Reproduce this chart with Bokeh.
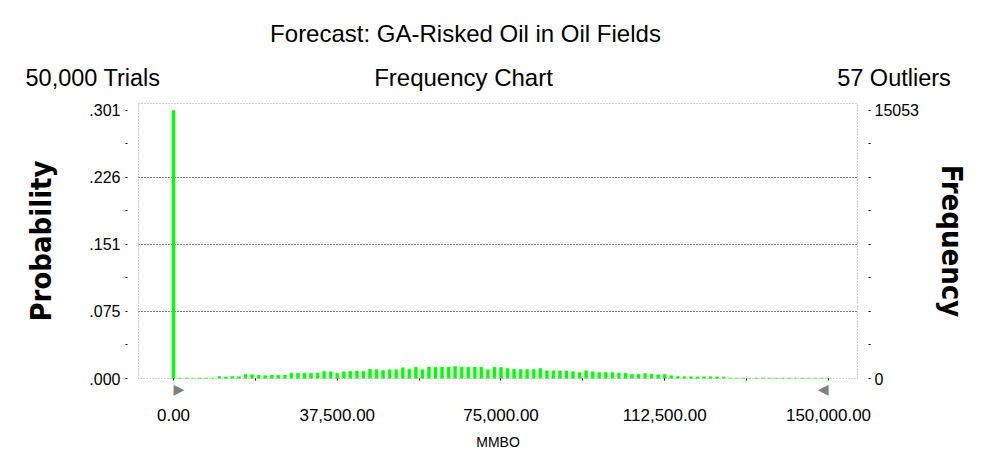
from bokeh.plotting import figure
from bokeh.layouts import column
from bokeh.models import (Range1d, LinearAxis, FixedTicker, NumeralTickFormatter,
                          CustomJSTickFormatter, Label)
from bokeh.embed import file_html
from bokeh.resources import INLINE

# ---- data -------------------------------------------------------------
trials = 50000
outliers = 57
max_frequency = 15053
bin_width = 1500
frequency = [
    15053, 20, 25, 20, 30, 25, 30, 110, 90, 110,
    100, 220, 210, 180, 150, 190, 185, 190, 300, 290,
    300, 295, 305, 410, 375, 300, 375, 410, 415, 405,
    525, 490, 450, 490, 495, 600, 525, 635, 490, 640,
    630, 635, 640, 675, 635, 630, 640, 635, 490, 635,
    620, 560, 525, 505, 510, 500, 560, 430, 435, 430,
    425, 375, 335, 430, 375, 335, 340, 335, 300, 300,
    240, 245, 280, 240, 210, 240, 150, 110, 95, 100,
    90, 100, 95, 90, 85, 30, 25, 30, 25, 25,
    30, 25, 25, 20, 25, 20, 25, 20, 20, 25,
    20,
]
x_tick_values = [0, 37500, 75000, 112500, 150000]
x_minor_values = [18750, 56250, 93750, 131250]
certainty_range = [0, 150000]

title_text = "Forecast: GA-Risked Oil in Oil Fields"
subtitle_text = "Frequency Chart"
trials_text = "50,000 Trials"
outliers_text = "57 Outliers"

# ---- derived ------------------------------------------------------------
centers = [i * bin_width for i in range(len(frequency))]
probability = [f / trials for f in frequency]
p_max = max_frequency / trials
y_top = 0.3089

FONT = "Liberation Sans"
LBL_FONT = "DejaVu Sans Condensed"
W = 980
H = 457
FRAME_L, FRAME_R = 138, 857

# ---- header (title rows); its frame is aligned with the chart frame ----
HDR_H = 95
hdr = figure(width=W, height=HDR_H, output_backend="svg", toolbar_location=None,
             x_range=Range1d(FRAME_L, FRAME_R), y_range=Range1d(0, HDR_H),
             x_axis_location=None, y_axis_location=None,
             min_border_left=FRAME_L, min_border_right=W - FRAME_R,
             min_border_top=0, min_border_bottom=0)
hdr.outline_line_color = None
hdr.grid.visible = False
hdr.text(x=[465], y=[HDR_H - 33], text=[title_text], text_align="center",
         text_baseline="middle", text_font={"value": FONT},
         text_font_size="24px", text_color="black")
hdr.text(x=[463], y=[HDR_H - 77], text=[subtitle_text], text_align="center",
         text_baseline="middle", text_font={"value": FONT},
         text_font_size="24px", text_color="black")
hdr.add_layout(Label(x=92.5, y=HDR_H - 77, y_units="screen", text=trials_text,
                     text_align="center", text_baseline="middle", text_color="black",
                     text_font=FONT, text_font_size="23.5px"), "left")
hdr.add_layout(Label(x=893.5, y=HDR_H - 77, y_units="screen", text=outliers_text,
                     text_align="center", text_baseline="middle", text_color="black",
                     text_font=FONT, text_font_size="23.5px"), "right")

# ---- main chart ----------------------------------------------------------
MAIN_H = H - HDR_H
p = figure(width=W, height=MAIN_H, output_backend="svg", toolbar_location=None,
           x_range=Range1d(-8015, 156641), y_range=Range1d(0, y_top),
           x_axis_location=None, y_axis_location=None,
           min_border_left=FRAME_L, min_border_right=W - FRAME_R,
           min_border_top=8, min_border_bottom=MAIN_H - 283)
p.extra_y_ranges = {"freq": Range1d(0, y_top * trials)}

p.background_fill_color = "white"
p.border_fill_color = "white"
p.outline_line_color = "#a0a0a0"
p.outline_line_dash = "1 2"

p.xgrid.visible = False
p.ygrid.ticker = FixedTicker(ticks=[p_max * i / 4 for i in (1, 2, 3)])
p.ygrid.grid_line_color = "black"
p.ygrid.grid_line_dash = "1 2"
p.ygrid.grid_line_width = 1

p.vbar(x=centers, top=probability, width=bin_width * 0.45,
       fill_color="#00ff00", line_color="#00ff00", line_width=0.5)

# certainty range markers (side panels, so not clipped by the frame)
p.add_layout(Label(x=certainty_range[0], y=-2, y_units="screen", text="▶",
                   text_align="left", text_baseline="top", text_color="#808080",
                   text_font="DejaVu Sans", text_font_size="14px"), "left")
p.add_layout(Label(x=certainty_range[1], y=-2, y_units="screen", text="◀",
                   text_align="right", text_baseline="top", text_color="#808080",
                   text_font="DejaVu Sans", text_font_size="14px"), "right")


def style_axis(ax):
    ax.axis_line_color = None
    ax.major_tick_line_color = "black"
    ax.minor_tick_line_color = "black"
    ax.major_tick_out = 2
    ax.major_tick_in = 0
    ax.minor_tick_out = 2
    ax.minor_tick_in = 0
    ax.major_label_text_font = FONT
    ax.major_label_text_color = "black"
    ax.axis_label_text_color = "black"


left = LinearAxis(
    ticker=FixedTicker(ticks=[p_max * i / 4 for i in range(5)],
                       minor_ticks=[p_max * i / 8 for i in (1, 3, 5, 7)]),
    formatter=CustomJSTickFormatter(code="return tick.toFixed(3).replace(/^0/, '')"),
    axis_label="Probability")
style_axis(left)
left.major_label_text_font_size = "16px"
left.major_label_standoff = 5
left.axis_label_text_font = LBL_FONT
left.axis_label_text_font_style = "bold"
left.axis_label_text_font_size = "29px"
left.axis_label_standoff = 28
p.add_layout(left, "left")

right = LinearAxis(
    y_range_name="freq",
    ticker=FixedTicker(ticks=[0, max_frequency],
                       minor_ticks=[max_frequency * i / 8 for i in range(1, 8)]),
    axis_label="Frequency")
style_axis(right)
right.major_label_text_font_size = "16px"
right.major_label_standoff = 4
right.axis_label_text_font = LBL_FONT
right.axis_label_text_font_style = "bold"
right.axis_label_text_font_size = "29px"
right.axis_label_standoff = 13
p.add_layout(right, "right")

bottom = LinearAxis(
    ticker=FixedTicker(ticks=x_tick_values, minor_ticks=x_minor_values),
    formatter=NumeralTickFormatter(format="0,0.00"),
    axis_label="MMBO")
style_axis(bottom)
bottom.major_label_text_font_size = "17px"
bottom.major_label_standoff = 28
bottom.axis_label_text_font = FONT
bottom.axis_label_text_font_style = "normal"
bottom.axis_label_text_font_size = "14px"
bottom.axis_label_standoff = 10
p.add_layout(bottom, "below")

layout = column(hdr, p, spacing=0)
open("out.html", "w").write(file_html(layout, INLINE))
